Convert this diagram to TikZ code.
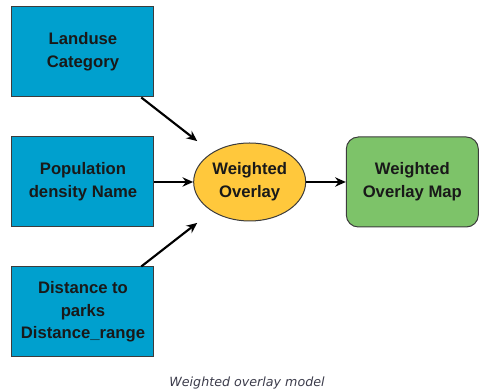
\documentclass[tikz,border=0pt]{standalone}
\usepackage{fontspec}
\setmainfont{Liberation Sans}
\newfontfamily\capfont{DejaVu Sans}
\usetikzlibrary{positioning, shapes.geometric, arrows.meta}
\definecolor{layerblue}{RGB}{0,160,206}
\definecolor{toolyellow}{RGB}{255,200,60}
\definecolor{mapgreen}{RGB}{125,195,105}
\definecolor{boxedge}{RGB}{60,60,60}
\definecolor{txt}{RGB}{25,25,25}
\definecolor{captxt}{RGB}{60,60,75}

\begin{document}
\begin{tikzpicture}[>={Stealth[length=8pt, width=7pt]}, node distance=97.5pt, on grid,
  layer/.style={rectangle, draw=boxedge, line width=0.75pt, fill=layerblue,
    minimum width=106.5pt, minimum height=67.5pt, inner sep=0pt, align=center,
    text=txt, font=\fontsize{12.5}{17}\selectfont\bfseries},
  tool/.style={ellipse, draw=boxedge, line width=0.75pt, fill=toolyellow,
    minimum width=84pt, minimum height=58.5pt, inner sep=0pt, align=center,
    text=txt, font=\fontsize{12.5}{17}\selectfont\bfseries},
  result/.style={rectangle, rounded corners=9pt, draw=boxedge, line width=0.75pt,
    fill=mapgreen, minimum width=99pt, minimum height=67.5pt, inner sep=0pt,
    align=center, text=txt, font=\fontsize{12.5}{17}\selectfont\bfseries},
  link/.style={->, line width=1.6pt, black}]

\useasboundingbox (-62.25pt,-156.75pt) rectangle (297.75pt,136.5pt);

\node[layer] (pop) {Population\\density Name};
\node[layer, above=of pop] (land) {Landuse\\Category};
\node[layer, below=of pop] (dist) {Distance to\\parks\\Distance\_range};
\node[tool, right=125pt of pop] (ovl) {Weighted\\Overlay};
\node[result, right=122pt of ovl] (map) {Weighted\\Overlay Map};

\path[link]
(land) edge [shorten >=14pt] (ovl)
(pop) edge (ovl)
(dist) edge [shorten >=14pt] (ovl)
(ovl) edge (map);

\node[text=captxt, font=\capfont\fontsize{9.5}{11}\selectfont\itshape] (cap)
  at (123pt,-150.75pt) {Weighted overlay model};

\end{tikzpicture}
\end{document}
